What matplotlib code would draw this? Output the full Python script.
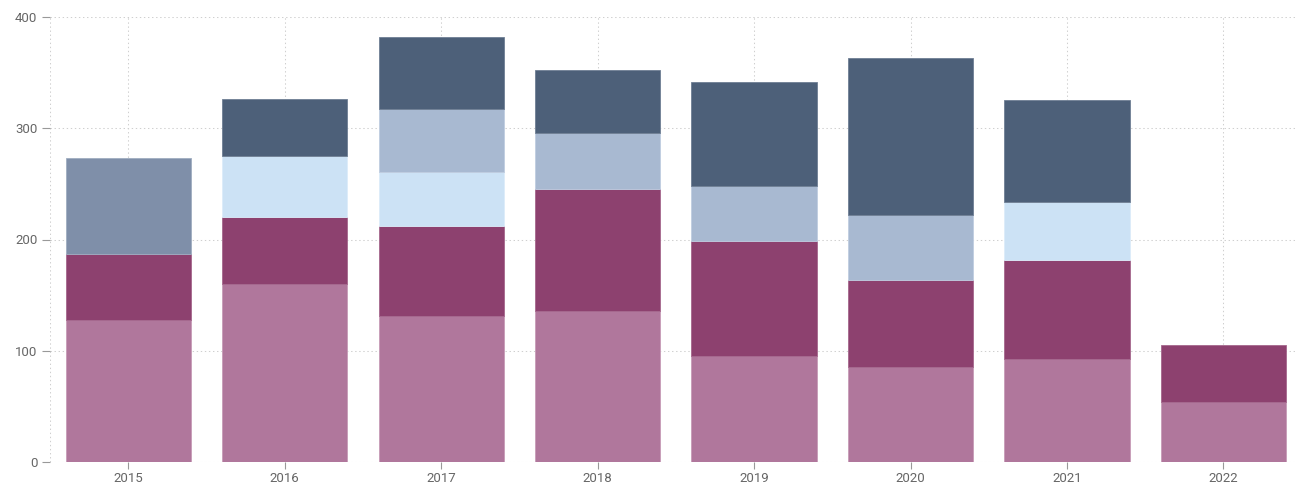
import matplotlib
matplotlib.use("Agg")
import matplotlib.pyplot as plt
import numpy as np

plt.rcParams['font.family'] = ['Roboto', 'DejaVu Sans']

years = ["2015", "2016", "2017", "2018", "2019", "2020", "2021", "2022"]
s_pink = [128, 160, 131, 136, 95, 85, 93, 54]
s_magenta = [59, 60, 81, 109, 104, 79, 89, 51]
s_lightblue = [0, 55, 49, 0, 0, 0, 52, 0]
s_midblue = [0, 0, 56, 51, 49, 58, 0, 0]
s_dark = [0, 51, 65, 56, 94, 141, 91, 0]
s_grayblue = [86, 0, 0, 0, 0, 0, 0, 0]

series = [s_pink, s_magenta, s_lightblue, s_midblue, s_dark, s_grayblue]
colors = ["#b0779c", "#8d416f", "#cce2f5", "#a8b9d1", "#4d6079", "#7f8fa9"]
edges = ["#c79bb7", "#a5678d", "#dcecf9", "#bfcde0", "#6f7f94", "#a0adc1"]

fig = plt.figure(figsize=(12.97, 4.96), dpi=100)
ax = fig.add_axes([50/1297, 1 - 462/496, (1297 - 50)/1297, (462 - 17)/496])

x = np.arange(len(years))
bottom = np.zeros(len(years))
for vals, c, ec in zip(series, colors, edges):
    v = np.array(vals, dtype=float)
    mask = v > 0
    ax.bar(x[mask], v[mask], width=0.8, bottom=bottom[mask], color=c,
           edgecolor=ec, linewidth=0.6, zorder=3)
    bottom += v

ax.set_xlim(-0.5, 7.47)
ax.set_ylim(0, 400)
ax.set_yticks([0, 100, 200, 300, 400])
ax.set_xticks(x)
ax.set_xticklabels(years)

for s in ax.spines.values():
    s.set_visible(False)

grid_style = dict(linestyle=(0, (1.3, 2.6)), color="#cfcfcf", linewidth=0.75)
ax.grid(True, axis='both', zorder=0, **grid_style)
ax.axvline(-0.5, zorder=0, **grid_style)
ax.tick_params(axis='y', length=6, width=0.8, color="#999999", labelcolor="#666666", labelsize=9.5, pad=3)
ax.tick_params(axis='x', length=5, width=0.8, color="#999999", labelcolor="#666666", labelsize=9.5, pad=2)

fig.savefig("out.png", dpi=100)
